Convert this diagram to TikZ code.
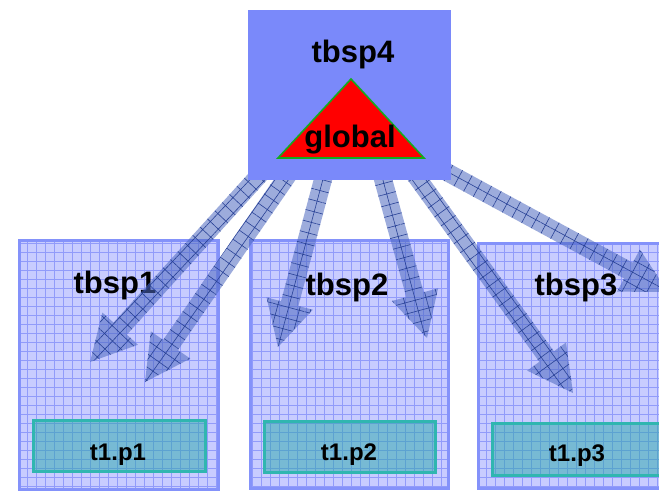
\documentclass[tikz,border=0pt]{standalone}
\usepackage{fontspec}
\setmainfont{Liberation Sans}
\usetikzlibrary{calc,patterns.meta}

\definecolor{topblue}{RGB}{122,137,250}
\definecolor{boxfill}{RGB}{200,204,255}
\definecolor{boxedge}{RGB}{132,146,250}
\definecolor{gridblue}{RGB}{145,155,250}
\definecolor{tealedge}{RGB}{48,182,176}
\definecolor{tealfill}{RGB}{40,170,170}
\definecolor{arrowblue}{RGB}{77,104,192}
\definecolor{hatchblue}{RGB}{40,65,150}
\definecolor{trigreen}{RGB}{20,170,30}

\tikzset{
  x=1pt, y=-1pt,
  outerbox/.style={fill=boxfill, inner sep=0, outer sep=0},
  outeredge/.style={draw=boxedge, line width=3pt, inner sep=0, outer sep=0},
  gridline/.style={draw=gridblue, line width=0.7pt},
  innerbox/.style={draw=tealedge, line width=3pt, fill=tealfill, fill opacity=.5, draw opacity=1, inner sep=0},
  topbox/.style={fill=topblue, inner sep=0, minimum width=203pt, minimum height=170pt},
  biglbl/.style={font=\bfseries\fontsize{31}{31}\selectfont, anchor=base, inner sep=0},
  smalllbl/.style={font=\bfseries\fontsize{24}{24}\selectfont, anchor=base, inner sep=0},
  arrowbody/.style={fill=arrowblue, fill opacity=.55},
  tri/.style={fill=red, draw=trigreen, line width=1.6pt, line join=miter},
}

% outline of a broad arrow from #1 to the tip #2 (needs coordinate hb)
\def\arrowoutline#1#2{($(#1)!9pt!90:(#2)$) -- ($(hb)!9pt!-90:(#1)$)
  -- ($(hb)!24pt!-90:(#1)$) -- (#2) -- ($(hb)!24pt!90:(#1)$)
  -- ($(hb)!9pt!90:(#1)$) -- ($(#1)!9pt!-90:(#2)$) -- cycle}

% broad translucent arrow with a hatch turned along its axis
\newcommand\fatarrow[3]{%
  \coordinate (hb) at ($(#2)!45pt!(#1)$);
  \fill[arrowbody] \arrowoutline{#1}{#2};
  \fill[pattern={Hatch[angle=#3,distance=11pt,line width=.6pt]},
        pattern color=hatchblue, fill opacity=.22] \arrowoutline{#1}{#2};
}

% a lower box with its grid
\newcommand\gridbox[5]{% name, cx, cy, width, height
  \node[outerbox, minimum width=#4pt, minimum height=#5pt] (#1) at (#2,#3) {};
  \begin{scope}
    \clip (#1.south west) rectangle (#1.north east);
    \draw[gridline, step=9pt] (#1.south west) grid (#1.north east);
  \end{scope}
  \node[outeredge, minimum width=#4pt, minimum height=#5pt] (#1e) at (#2,#3) {};
}

\begin{document}
\begin{tikzpicture}
\useasboundingbox (0,0) rectangle (659,492);
\clip (0,0) rectangle (659,492);
\fill[white] (0,0) rectangle (659,492);

% lower tablespaces
\gridbox{b1}{119}{365}{199}{249}
\gridbox{b2}{349.5}{364.5}{198}{248}
\gridbox{b3}{578}{366}{199}{245}

\node[innerbox, minimum width=172pt, minimum height=51pt] (p1) at (119.5,446) {};
\node[innerbox, minimum width=171pt, minimum height=51pt] (p2) at (350,447) {};
\node[innerbox, minimum width=172pt, minimum height=52pt] (p3) at (578.5,449.5) {};

\node[smalllbl] (p1t) at (118,460) {t1.p1};
\node[smalllbl] (p2t) at (349,460) {t1.p2};
\node[smalllbl] (p3t) at (577,461) {t1.p3};

\node[biglbl] (l1) at (115,293) {tbsp1};
\node[biglbl] (l2) at (347,295) {tbsp2};
\node[biglbl] (l3) at (576,295) {tbsp3};

% arrow ends
\coordinate (s1) at (262,172);  \coordinate (e1) at (90,362);
\coordinate (s2) at (290,172);  \coordinate (e2) at (145,382);
\coordinate (s3) at (325,172);  \coordinate (e3) at (278,347);
\coordinate (s4) at (381,172);  \coordinate (e4) at (427,338);
\coordinate (s5) at (413,172);  \coordinate (e5) at (573,393);
\coordinate (s6) at (443,170);  \coordinate (e6) at (668,292);

\fatarrow{s1}{e1}{46.6}
\fatarrow{s2}{e2}{54.7}
\fatarrow{s3}{e3}{75}
\fatarrow{s4}{e4}{15.1}
\fatarrow{s5}{e5}{36}
\fatarrow{s6}{e6}{61.5}

% global tablespace
\node[topbox] (top) at (349.5,95) {};
\coordinate (ta) at (351,79);
\coordinate (tr) at (424,158);
\coordinate (tl) at (278,158);
\draw[tri] (ta) -- (tr) -- (tl) -- cycle;
\node[biglbl] (l4) at (353,63) {tbsp4};
\node[biglbl] (gl) at (350,148) {global};
\end{tikzpicture}
\end{document}
